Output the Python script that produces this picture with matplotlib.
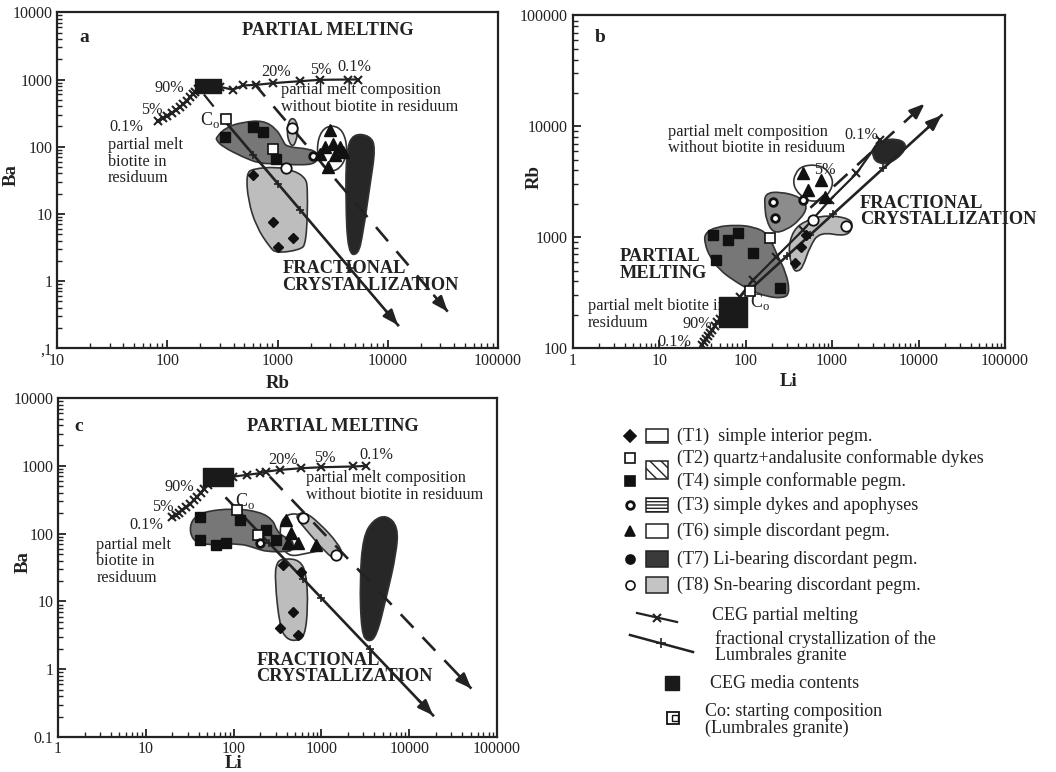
import numpy as np
import matplotlib.pyplot as plt
from matplotlib.path import Path
from matplotlib.patches import PathPatch, Rectangle
from matplotlib.ticker import LogLocator, NullFormatter

plt.rcParams['font.family'] = ['Liberation Serif', 'DejaVu Serif']
plt.rcParams['mathtext.fontset'] = 'custom'
plt.rcParams['mathtext.rm'] = 'Liberation Serif'

INK = '#222222'

# ---------------- panel a : Rb vs Ba ----------------
a_melt_bt_rb = [82, 92, 100, 110, 120, 130, 140, 150, 160, 170, 180, 190]
a_melt_bt_ba = [245, 265, 290, 320, 350, 390, 430, 480, 540, 600, 660, 720]
a_ceg = (235, 800)
a_melt_rb = [300, 394, 486, 642, 910, 1590, 2410, 4350, 5370]
a_melt_ba = [780, 703, 815, 833, 883, 944, 989, 1000, 1000]
a_fc = [(344, 225), (12400, 0.22)]
a_fc_ticks_rb = [600, 1000, 1600, 4500]
a_fc_ticks_ba = [75, 28, 11.4, 1.55]
a_dash = [(600, 910), (35000, 0.35)]
a_dash_short = [(215, 600), (330, 250)]

a_t4_field = ([279, 344, 486, 740, 975, 1120, 1200, 1960, 2330, 2250, 1590, 975, 689, 486, 321, 279],
              [139, 196, 232, 246, 185, 124, 99, 93, 79, 56, 53, 56, 56, 70, 99, 124])
a_t8_field = ([521, 600, 975, 1380, 1765, 1890, 1830, 1590, 975, 849, 643, 540],
              [39.7, 47, 50, 44.5, 35.4, 25.2, 3.6, 2.9, 2.6, 3.2, 6.4, 16])
a_t8_pill = ([1245, 1335, 1480, 1535, 1480, 1380, 1265, 1220],
             [220, 270, 246, 175, 124, 99, 118, 165])
a_t6_field = ([3120, 3930, 4330, 3930, 3120, 2480, 2250, 2480],
              [212, 175, 93, 52.8, 41, 52.8, 93, 175])
a_t7_field = ([4840, 6860, 7770, 6860, 5960, 5370, 4355, 4150, 4210],
              [156, 147, 99, 25.2, 5.1, 2.4, 2.6, 16, 88])

a_t4_rb, a_t4_ba = [332, 600, 740, 975], [139, 196, 165, 66]
a_t2_rb, a_t2_ba = [910], [93]
a_co = (339, 261)
a_t1_rb, a_t1_ba = [600, 910, 1380, 1010], [37.5, 7.6, 4.3, 3.2]
a_t8_rb, a_t8_ba = [1360, 1200], [192, 48.7]
a_t3_rb, a_t3_ba = [2100], [71.8]
a_t6_rb = [2970, 2680, 3190, 3660, 2870, 2410, 3300, 3930]
a_t6_ba = [175, 99, 111, 99, 50, 79, 74, 83]

# ---------------- panel b : Li vs Rb ----------------
b_melt_bt_li = [31, 33, 35, 37, 39, 41, 44, 47, 50]
b_melt_bt_rb = [107, 113, 120, 128, 137, 147, 160, 172, 185]
b_ceg = (71, 214)
b_melt_li = [85, 122, 226, 461, 939, 1914, 3565]
b_melt_rb = [292, 412, 668, 1161, 2163, 3758, 7500]
b_fc = [(111, 335), (18500, 12590)]
b_fc_ticks_li = [300, 551, 1030, 3900]
b_fc_ticks_rb = [677, 1042, 1625, 4170]
b_dash = [(560, 1845), (11800, 16030)]

b_t4_field = ([33.5, 45.7, 78, 122, 181, 226, 296, 323, 271, 173, 111, 71, 50, 38.3, 33.5],
              [1085, 1245, 1290, 1245, 1085, 716, 473, 313, 282, 292, 335, 412, 507, 668, 881])
b_t3_field = ([166, 248, 422, 527, 422, 296, 207, 173, 166],
              [2483, 2582, 2317, 1885, 1429, 1161, 1085, 1429, 1885])
b_t8_field = ([353, 309, 353, 504, 860, 1603, 1750, 1466, 719, 551, 461, 404],
              [507, 767, 1161, 1429, 1585, 1479, 1245, 1012, 1122, 822, 543, 490])
b_t6_field = ([370, 461, 752, 982, 1028, 787, 551, 422, 353],
              [3758, 4467, 4467, 3631, 2850, 2163, 2089, 2399, 2951])
b_t7_field = ([2985, 3900, 5560, 7260, 6640, 4660, 3410, 2930],
              [6530, 7500, 7760, 7000, 5690, 4624, 4624, 5310])

b_t4_li, b_t4_rb = [41.9, 62.4, 81.5, 45.7, 122, 248], [1047, 944, 1085, 624, 716, 347]
b_t2_li, b_t2_rb = [190], [977]
b_co = (113, 330)
b_t3_li, b_t3_rb = [207, 461, 217], [2089, 2163, 1479]
b_t8_li, b_t8_rb = [603, 1440], [1429, 1256]
b_t6_li, b_t6_rb = [461, 527, 752, 822], [3758, 2661, 3273, 2317]
b_t1_li, b_t1_rb = [370, 441, 504], [582, 822, 1047]

# ---------------- panel c : Li vs Ba ----------------
c_melt_bt_li = [20, 22, 24, 26, 29, 32, 35, 38, 42, 46, 51]
c_melt_bt_ba = [178, 190, 205, 222, 245, 275, 310, 350, 400, 455, 520]
c_ceg = (66, 695)
c_melt_li = [80, 98.5, 140, 198, 236, 335, 591, 1000, 2290, 3250]
c_melt_ba = [690, 695, 736, 780, 825, 873, 925, 956, 980, 1000]
c_fc = [(82.7, 333), (18660, 0.209)]
c_fc_ticks_li = [250, 617, 1000, 3600]
c_fc_ticks_ba = [74, 21.6, 11.2, 1.96]
c_dash = [(258, 695), (51000, 0.518)]

c_t4_field = ([33, 44.8, 98.5, 198, 281, 307, 365, 475, 475, 399, 236, 181, 117, 63.6, 37.6, 31.6],
              [159, 211, 237, 211, 159, 113, 90.3, 80.6, 57.4, 54.2, 54.2, 60.7, 72, 68, 72, 101])
c_t8_field = ([307, 382, 565, 673, 703, 645, 518, 399, 335, 294],
              [38.6, 43.2, 40.8, 25.9, 8.3, 3.0, 2.6, 2.8, 4.2, 20.6])
c_t6_field = ([350, 435, 617, 955, 1138, 1042, 673, 435, 350, 335],
              [159, 200, 189, 127, 80.6, 57.4, 51.2, 45.7, 64.3, 101])
c_t8_pill = ([518, 645, 955, 1545, 1762, 1479, 1138, 673, 541],
             [189, 211, 142, 72, 48.4, 40.8, 51.2, 113, 159])
c_t7_field = ([2980, 3870, 5500, 7450, 7130, 5500, 4230, 3400, 2850, 2730],
              [90.3, 159, 189, 127, 51.2, 11.7, 3.0, 2.5, 3.4, 20.6])

c_t4_li, c_t4_ba = [41, 117, 41, 63.6, 82.7, 236, 307], [178, 159, 80.6, 68, 72, 113, 80.6]
c_t2_li, c_t2_ba = [190], [95.5]
c_co = (109, 224)
c_t1_li, c_t1_ba = [365, 591, 475, 335, 541], [34.4, 27.4, 7.0, 4.0, 3.2]
c_t6_li, c_t6_ba = [399, 455, 541, 875, 417], [159, 101, 72, 68, 72]
c_t8_li, c_t8_ba = [617, 1479], [169, 48.4]
c_t3_li, c_t3_ba = [198], [72]

DARK = '#777777'
MID = '#8c8c8c'
LIGHT = '#bdbdbd'
BLACK = '#272727'

SMALL = 11.7   # annotation text
BOLD = 13.2    # bold captions


def blob(ax, field, color):
    lx, ly = np.log10(field[0]), np.log10(field[1])
    mx, my = (lx + np.roll(lx, -1)) / 2, (ly + np.roll(ly, -1)) / 2
    verts = [(mx[-1], my[-1])]
    codes = [Path.MOVETO]
    for i in range(len(lx)):
        verts += [(lx[i], ly[i]), (mx[i], my[i])]
        codes += [Path.CURVE3, Path.CURVE3]
    verts.append((mx[-1], my[-1]))
    codes.append(Path.CLOSEPOLY)
    p = Path(10 ** np.array(verts), codes)
    ax.add_patch(PathPatch(p, facecolor=color, edgecolor='#333333', lw=1.2, zorder=1))


def arrow(ax, seg, dashed=False):
    (x0, y0), (x1, y1) = seg
    ls = (0, (7, 5)) if dashed else '-'
    ax.plot([x0, x1], [y0, y1], color=INK, lw=1.9, ls=ls, zorder=3)
    f = 0.93
    xs = 10 ** (np.log10(x0) + f * (np.log10(x1) - np.log10(x0)))
    ys = 10 ** (np.log10(y0) + f * (np.log10(y1) - np.log10(y0)))
    ax.annotate('', xy=(x1, y1), xytext=(xs, ys),
                arrowprops=dict(arrowstyle='-|>,head_length=0.9,head_width=0.35',
                                color=INK, lw=1.9, shrinkA=0, shrinkB=0), zorder=3)


def ceg_marker(aspect):
    return Path([(-1, -aspect), (1, -aspect), (1, aspect), (-1, aspect), (-1, -aspect)],
                [Path.MOVETO, Path.LINETO, Path.LINETO, Path.LINETO, Path.CLOSEPOLY])


def setup(ax, xlim, ylim, xlabels, ylabels):
    ax.set_xscale('log')
    ax.set_yscale('log')
    ax.set_xlim(*xlim)
    ax.set_ylim(*ylim)
    xt = 10.0 ** np.arange(np.log10(xlim[0]), np.log10(xlim[1]) + 0.5)
    yt = 10.0 ** np.arange(np.log10(ylim[0]), np.log10(ylim[1]) + 0.5)
    ax.set_xticks(xt, xlabels)
    ax.set_yticks(yt, ylabels)
    ax.xaxis.set_minor_locator(LogLocator(base=10, subs=range(2, 10), numticks=20))
    ax.yaxis.set_minor_locator(LogLocator(base=10, subs=range(2, 10), numticks=20))
    ax.xaxis.set_minor_formatter(NullFormatter())
    ax.yaxis.set_minor_formatter(NullFormatter())
    ax.tick_params(which='both', direction='in', top=False, right=False,
                   labelsize=11.5, color=INK, labelcolor=INK)
    ax.tick_params(which='major', length=6, width=1.3)
    ax.tick_params(which='minor', length=3.5, width=1.0)
    for s in ax.spines.values():
        s.set_linewidth(1.6)
        s.set_color(INK)


def markers(ax, kind, xs, ys):
    if kind == 'T4':
        ax.plot(xs, ys, 's', ms=7, mfc='#111111', mec='#111111', ls='none', zorder=4)
    elif kind == 'T2':
        ax.plot(xs, ys, 's', ms=7, mfc='white', mec='#111111', mew=1.2, ls='none', zorder=4)
    elif kind == 'T1':
        ax.plot(xs, ys, 'D', ms=5.5, mfc='#111111', mec='#111111', ls='none', zorder=4)
    elif kind == 'T8':
        ax.plot(xs, ys, 'o', ms=7.5, mfc='white', mec='#111111', mew=1.3, ls='none', zorder=4)
    elif kind == 'T3':
        ax.plot(xs, ys, 'o', ms=5.5, mfc='white', mec='#111111', mew=2.0, ls='none', zorder=4)
    elif kind == 'T6':
        ax.plot(xs, ys, '^', ms=8, mfc='#111111', mec='#111111', ls='none', zorder=4)


def txt(ax, x, y, s, **kw):
    kw.setdefault('fontsize', SMALL)
    kw.setdefault('color', INK)
    ax.text(x, y, s, transform=ax.transAxes, **kw)


def axis_labels(ax, xl, yl, xpos, ypos):
    ax.set_xlabel(xl, fontsize=13.5, fontweight='bold', color=INK)
    ax.set_ylabel(yl, fontsize=13.5, fontweight='bold', color=INK)
    ax.xaxis.set_label_coords(*xpos)
    ax.yaxis.set_label_coords(*ypos)


fig = plt.figure(figsize=(10.56, 7.72), dpi=100)

# ============ panel a ============
ax = fig.add_axes([0.054, 0.549, 0.4176, 0.435])
setup(ax, (10, 100000), (0.1, 10000),
      ['10', '100', '1000', '10000', '100000'],
      [',1', '1', '10', '100', '1000', '10000'])
blob(ax, a_t8_field, LIGHT)
blob(ax, a_t8_pill, LIGHT)
blob(ax, a_t4_field, DARK)
blob(ax, a_t6_field, 'white')
blob(ax, a_t7_field, BLACK)
ax.plot(a_melt_bt_rb, a_melt_bt_ba, '-x', color=INK, lw=1.6, ms=6, mew=1.5, zorder=3)
ax.plot(a_melt_rb, a_melt_ba, '-x', color=INK, lw=1.6, ms=6, mew=1.5, zorder=3)
arrow(ax, a_fc)
arrow(ax, a_dash, dashed=True)
ax.plot(*zip(*a_dash_short), color=INK, lw=1.6, ls=(0, (7, 5)), zorder=3)
ax.plot(a_fc_ticks_rb, a_fc_ticks_ba, '+', color=INK, ms=6, mew=1.2, zorder=3)
ax.plot(*a_ceg, marker=ceg_marker(0.55), ms=19, color='#1a1a1a', zorder=4)
markers(ax, 'T4', a_t4_rb, a_t4_ba)
markers(ax, 'T2', a_t2_rb, a_t2_ba)
ax.plot(*a_co, 's', ms=7, mfc='white', mec='#111111', mew=1.2, zorder=4)
markers(ax, 'T1', a_t1_rb, a_t1_ba)
markers(ax, 'T8', a_t8_rb, a_t8_ba)
markers(ax, 'T3', a_t3_rb, a_t3_ba)
markers(ax, 'T6', a_t6_rb, a_t6_ba)
txt(ax, 0.051, 0.926, 'a', fontsize=14, fontweight='bold', va='center')
txt(ax, 0.615, 0.946, 'PARTIAL MELTING', fontsize=BOLD, fontweight='bold', ha='center', va='center')
txt(ax, 0.255, 0.775, '90%', ha='center', va='center')
txt(ax, 0.214, 0.708, '5%', ha='center', va='center')
txt(ax, 0.157, 0.658, '0.1%', ha='center', va='center')
txt(ax, 0.116, 0.629, 'partial melt\nbiotite in\nresiduum', va='top', linespacing=1.05)
txt(ax, 0.497, 0.822, '20%', ha='center', va='center')
txt(ax, 0.599, 0.827, '5%', ha='center', va='center')
txt(ax, 0.675, 0.837, '0.1%', ha='center', va='center')
txt(ax, 0.509, 0.792, 'partial melt composition\nwithout biotite in residuum', va='top', linespacing=1.05)
txt(ax, 0.346, 0.678, r'C$_\mathrm{o}$', fontsize=13, ha='center', va='center')
txt(ax, 0.511, 0.262, 'FRACTIONAL\nCRYSTALLIZATION', fontsize=BOLD, fontweight='bold',
    va='top', linespacing=0.95)
axis_labels(ax, 'Rb', 'Ba', (0.5, -0.08), (-0.084, 0.515))

# ============ panel b ============
ax = fig.add_axes([0.5426, 0.549, 0.409, 0.431])
setup(ax, (1, 100000), (100, 100000),
      ['1', '10', '100', '1000', '10000', '100000'],
      ['100', '1000', '10000', '100000'])
blob(ax, b_t4_field, DARK)
blob(ax, b_t3_field, MID)
blob(ax, b_t8_field, LIGHT)
blob(ax, b_t6_field, 'white')
blob(ax, b_t7_field, BLACK)
ax.plot(b_melt_bt_li, b_melt_bt_rb, '-x', color=INK, lw=1.6, ms=6, mew=1.5, zorder=3)
ax.plot(b_melt_li, b_melt_rb, '-x', color=INK, lw=1.6, ms=6, mew=1.5, zorder=3)
arrow(ax, b_fc)
arrow(ax, b_dash, dashed=True)
ax.plot(b_fc_ticks_li, b_fc_ticks_rb, '+', color=INK, ms=6, mew=1.2, zorder=3)
ax.plot(*b_ceg, marker=ceg_marker(1.1), ms=22, color='#1a1a1a', zorder=4)
markers(ax, 'T4', b_t4_li, b_t4_rb)
markers(ax, 'T2', b_t2_li, b_t2_rb)
ax.plot(*b_co, 's', ms=7, mfc='white', mec='#111111', mew=1.2, zorder=4)
markers(ax, 'T3', b_t3_li, b_t3_rb)
markers(ax, 'T8', b_t8_li, b_t8_rb)
markers(ax, 'T6', b_t6_li, b_t6_rb)
markers(ax, 'T1', b_t1_li, b_t1_rb)
txt(ax, 0.050, 0.935, 'b', fontsize=14, fontweight='bold', va='center')
txt(ax, 0.220, 0.675, 'partial melt composition\nwithout biotite in residuum', va='top', linespacing=1.05)
txt(ax, 0.668, 0.640, '0.1%', ha='center', va='center')
txt(ax, 0.583, 0.535, '5%', ha='center', va='center')
txt(ax, 0.664, 0.460, 'FRACTIONAL\nCRYSTALLIZATION', fontsize=BOLD, fontweight='bold',
    va='top', linespacing=0.95)
txt(ax, 0.108, 0.300, 'PARTIAL\nMELTING', fontsize=BOLD, fontweight='bold', va='top', linespacing=0.95)
txt(ax, 0.035, 0.150, 'partial melt biotite in\nresiduum', va='top', linespacing=1.05)
txt(ax, 0.288, 0.072, '90%', ha='center', va='center')
txt(ax, 0.235, 0.020, '0.1%', ha='center', va='center')
txt(ax, 0.432, 0.140, r'C$_\mathrm{o}$', fontsize=13, ha='center', va='center')
axis_labels(ax, 'Li', 'Rb', (0.498, -0.075), (-0.069, 0.513))

# ============ panel c ============
ax = fig.add_axes([0.055, 0.0453, 0.4157, 0.439])
setup(ax, (1, 100000), (0.1, 10000),
      ['1', '10', '100', '1000', '10000', '100000'],
      ['0.1', '1', '10', '100', '1000', '10000'])
ax.tick_params(axis='x', pad=2.5)
blob(ax, c_t8_field, LIGHT)
blob(ax, c_t6_field, 'white')
blob(ax, c_t8_pill, LIGHT)
blob(ax, c_t4_field, DARK)
blob(ax, c_t7_field, BLACK)
ax.plot(c_melt_bt_li, c_melt_bt_ba, '-x', color=INK, lw=1.6, ms=6, mew=1.5, zorder=3)
ax.plot(c_melt_li, c_melt_ba, '-x', color=INK, lw=1.6, ms=6, mew=1.5, zorder=3)
arrow(ax, c_fc)
arrow(ax, c_dash, dashed=True)
ax.plot(c_fc_ticks_li, c_fc_ticks_ba, '+', color=INK, ms=6, mew=1.2, zorder=3)
ax.plot(*c_ceg, marker=ceg_marker(0.6), ms=21, color='#1a1a1a', zorder=4)
markers(ax, 'T4', c_t4_li, c_t4_ba)
markers(ax, 'T2', c_t2_li, c_t2_ba)
ax.plot(*c_co, 's', ms=7, mfc='white', mec='#111111', mew=1.2, zorder=4)
markers(ax, 'T1', c_t1_li, c_t1_ba)
markers(ax, 'T6', c_t6_li, c_t6_ba)
markers(ax, 'T8', c_t8_li, c_t8_ba)
markers(ax, 'T3', c_t3_li, c_t3_ba)
txt(ax, 0.038, 0.916, 'c', fontsize=14, fontweight='bold', va='center')
txt(ax, 0.626, 0.916, 'PARTIAL MELTING', fontsize=BOLD, fontweight='bold', ha='center', va='center')
txt(ax, 0.277, 0.739, '90%', ha='center', va='center')
txt(ax, 0.239, 0.680, '5%', ha='center', va='center')
txt(ax, 0.201, 0.626, '0.1%', ha='center', va='center')
txt(ax, 0.087, 0.591, 'partial melt\nbiotite in\nresiduum', va='top', linespacing=1.05)
txt(ax, 0.513, 0.818, '20%', ha='center', va='center')
txt(ax, 0.607, 0.823, '5%', ha='center', va='center')
txt(ax, 0.725, 0.833, '0.1%', ha='center', va='center')
txt(ax, 0.564, 0.788, 'partial melt composition\nwithout biotite in residuum', va='top', linespacing=1.05)
txt(ax, 0.425, 0.695, r'C$_\mathrm{o}$', fontsize=13, ha='center', va='center')
txt(ax, 0.452, 0.251, 'FRACTIONAL\nCRYSTALLIZATION', fontsize=BOLD, fontweight='bold',
    va='top', linespacing=0.95)
axis_labels(ax, 'Li', 'Ba', (0.40, -0.054), (-0.059, 0.516))

# ============ legend (pixel layout) ============
lg = fig.add_axes([0, 0, 1, 1], facecolor='none')
lg.set_xlim(0, 1056)
lg.set_ylim(772, 0)
lg.axis('off')

LEG = 13
rows = [
    ('D', 'black', 436, '(T1)  simple interior pegm.'),
    ('s', 'white', 458, '(T2) quartz+andalusite conformable dykes'),
    ('s', 'black', 481, '(T4) simple conformable pegm.'),
    ('o', 'dot', 505, '(T3) simple dykes and apophyses'),
    ('^', 'black', 531, '(T6) simple discordant pegm.'),
    ('o', 'black', 559, '(T7) Li-bearing discordant pegm.'),
    ('o', 'white', 585, '(T8) Sn-bearing discordant pegm.'),
]
for m, fc, y, label in rows:
    if fc == 'dot':
        lg.plot(630, y, 'o', ms=5.5, mfc='white', mec='#111111', mew=2.0)
    else:
        lg.plot(630, y, m, ms=6.5, mfc='#111111' if fc == 'black' else 'white', mec='#111111', mew=1.2)
    lg.text(677, y, label, fontsize=LEG, va='center', color=INK)

pk = dict(edgecolor='#222222', lw=1.1)
lg.add_patch(Rectangle((646, 429), 22, 14, facecolor='white', hatch='-', **pk))
lg.add_patch(Rectangle((646, 461), 22, 18, facecolor='white', hatch='\\\\\\', **pk))
lg.add_patch(Rectangle((646, 498), 22, 14, facecolor='white', hatch='-----', **pk))
lg.add_patch(Rectangle((646, 524), 22, 14, facecolor='white', **pk))
lg.add_patch(Rectangle((646, 551), 22, 16, facecolor='#3a3a3a', **pk))
lg.add_patch(Rectangle((646, 577), 22, 16, facecolor='#c4c4c4', **pk))

lg.plot([637, 677], [613, 622], color=INK, lw=1.6)
lg.plot(657, 617.5, 'x', color=INK, ms=6, mew=1.5)
lg.text(712, 616, 'CEG partial melting', fontsize=LEG, va='center', color=INK)
lg.plot([630, 693], [635, 652], color=INK, lw=1.8)
lg.plot(661, 643, '+', color=INK, ms=7, mew=1.2)
lg.text(715, 647, 'fractional crystallization of the\nLumbrales granite', fontsize=LEG,
        va='center', color=INK, linespacing=0.92)
lg.plot(672, 683, 's', ms=10, color='#1a1a1a')
lg.text(710, 684, 'CEG media contents', fontsize=LEG, va='center', color=INK)
lg.plot(673, 718, 's', ms=8, mfc='white', mec='#111111', mew=1.3)
lg.plot(675, 718, 's', ms=4, mfc='white', mec='#111111', mew=1.0)
lg.text(705, 720, 'Co: starting composition\n(Lumbrales granite)', fontsize=LEG,
        va='center', color=INK, linespacing=0.92)

fig.savefig('out.png', dpi=100)
